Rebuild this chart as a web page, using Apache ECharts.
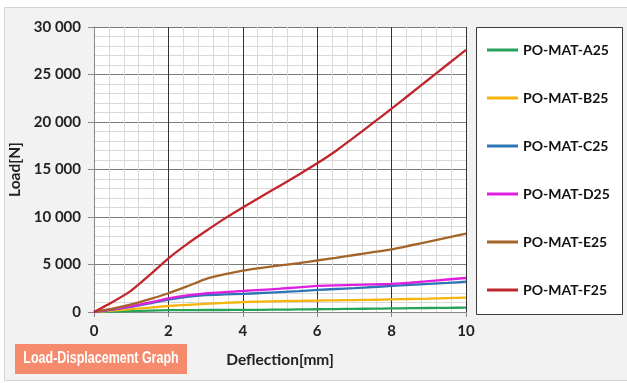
<!DOCTYPE html>
<html>
<head>
<meta charset="utf-8">
<script src="https://cdn.jsdelivr.net/npm/echarts@6/dist/echarts.min.js"></script>
<style>
html,body{margin:0;padding:0;background:#ffffff;}
#c{width:627px;height:383px;}
</style>
</head>
<body>
<div id="c"></div>
<script>
const deflection = [0, 0.5, 1, 1.5, 2, 2.5, 3, 3.5, 4, 4.5, 5, 5.5, 6, 6.5, 7, 7.5, 8, 8.5, 9, 9.5, 10];
const seriesNames = ['PO-MAT-A25', 'PO-MAT-B25', 'PO-MAT-C25', 'PO-MAT-D25', 'PO-MAT-E25', 'PO-MAT-F25'];
const loadA25 = [0, 50, 100, 150, 190, 200, 210, 210, 220, 230, 250, 270, 290, 310, 330, 350, 380, 400, 420, 440, 460];
const loadB25 = [0, 150, 300, 470, 630, 750, 850, 950, 1050, 1100, 1140, 1170, 1200, 1230, 1260, 1290, 1330, 1370, 1410, 1460, 1510];
const loadC25 = [0, 250, 550, 900, 1300, 1600, 1790, 1850, 1900, 2000, 2100, 2200, 2320, 2420, 2520, 2630, 2740, 2850, 2960, 3070, 3190];
const loadD25 = [0, 270, 600, 1000, 1440, 1750, 1970, 2100, 2210, 2330, 2450, 2600, 2740, 2800, 2850, 2900, 2950, 3080, 3250, 3420, 3580];
const loadE25 = [0, 350, 800, 1350, 1970, 2700, 3470, 3950, 4350, 4650, 4900, 5150, 5420, 5700, 6000, 6300, 6600, 7000, 7400, 7820, 8250];
const loadF25 = [0, 1050, 2250, 3900, 5650, 7150, 8500, 9800, 11000, 12150, 13300, 14450, 15650, 16950, 18400, 19900, 21400, 22950, 24500, 26050, 27600];
const colors = ['#27a35a', '#f5b50c', '#2e75b6', '#e01ee0', '#a5652a', '#c0262c'];
const allLoads = [loadA25, loadB25, loadC25, loadD25, loadE25, loadF25];

const chart = echarts.init(document.getElementById('c'));
const font = 'Lato, "Open Sans", "Liberation Sans", sans-serif';
chart.setOption({
  animation: false,
  backgroundColor: '#ffffff',
  color: colors,
  graphic: [
    { type: 'rect', z: -10, shape: { x: 4.5, y: 7.5, width: 640, height: 373 }, style: { fill: '#f2f2f2', stroke: '#d4d4d4', lineWidth: 1 } },
    { type: 'rect', z: -9, shape: { x: 94, y: 27, width: 372, height: 285 }, style: { fill: '#ffffff' } },
    { type: 'rect', z: 1, shape: { x: 476.5, y: 27.5, width: 146, height: 287 }, style: { fill: '#ffffff', stroke: '#3a3a3a', lineWidth: 1 } },
    { type: 'rect', z: 1, shape: { x: 15, y: 344, width: 172, height: 30 }, style: { fill: '#f58a6c' } },
    { type: 'text', z: 2, x: 101, y: 359, scaleX: 0.78, scaleY: 1, originX: 0, originY: 0,
      style: { text: 'Load-Displacement Graph', fill: '#ffffff', font: 'bold 16px "Liberation Sans", sans-serif', align: 'center', verticalAlign: 'middle' } }
  ],
  grid: { left: 94, right: 161, top: 27, bottom: 71, containLabel: false, outerBoundsMode: 'none' },
  legend: {
    orient: 'vertical', left: 477, top: 28, z: 3,
    padding: [15, 10, 16, 10],
    icon: 'rect',
    itemWidth: 31, itemHeight: 3, itemGap: 34,
    textStyle: { fontFamily: font, fontWeight: 'bold', fontSize: 14, color: '#111' },
    data: seriesNames
  },
  xAxis: {
    type: 'value', min: 0, max: 10, interval: 2,
    name: 'Deflection[mm]', nameLocation: 'middle', nameGap: 40,
    nameTextStyle: { fontFamily: font, fontWeight: 'bold', fontSize: 15.5, color: '#222' },
    axisLine: { show: true, lineStyle: { color: '#888', width: 1 } },
    axisTick: { show: true, length: 5, lineStyle: { color: '#888' } },
    axisLabel: { fontFamily: font, fontWeight: 'bold', fontSize: 15, color: '#222', margin: 12 },
    splitLine: { show: true, lineStyle: { color: '#333', width: 1 } },
    minorTick: { show: false, splitNumber: 5 },
    minorSplitLine: { show: true, lineStyle: { color: '#d9d9d9', width: 1 } }
  },
  yAxis: {
    type: 'value', min: 0, max: 30000, interval: 5000,
    name: 'Load[N]', nameLocation: 'middle', nameGap: 68, nameRotate: 90,
    nameTextStyle: { fontFamily: font, fontWeight: 'bold', fontSize: 15.5, color: '#222' },
    axisLine: { show: true, lineStyle: { color: '#888', width: 1 } },
    axisTick: { show: true, length: 6, lineStyle: { color: '#888' } },
    axisLabel: { fontFamily: font, fontWeight: 'bold', fontSize: 15, color: '#222', margin: 13,
      formatter: v => { const s = String(v); return s.length > 3 ? s.slice(0, s.length - 3) + ' ' + s.slice(-3) : s; } },
    splitLine: { show: true, lineStyle: { color: '#7a7a7a', width: 1 } },
    minorTick: { show: false, splitNumber: 5 },
    minorSplitLine: { show: true, lineStyle: { color: '#d9d9d9', width: 1 } }
  },
  series: seriesNames.map((n, i) => ({
    name: n, type: 'line', symbol: 'none', smooth: 0.15,
    lineStyle: { width: 2.3, color: colors[i] },
    itemStyle: { color: colors[i] },
    data: deflection.map((x, j) => [x, allLoads[i][j]])
  }))
});
</script>
</body>
</html>
